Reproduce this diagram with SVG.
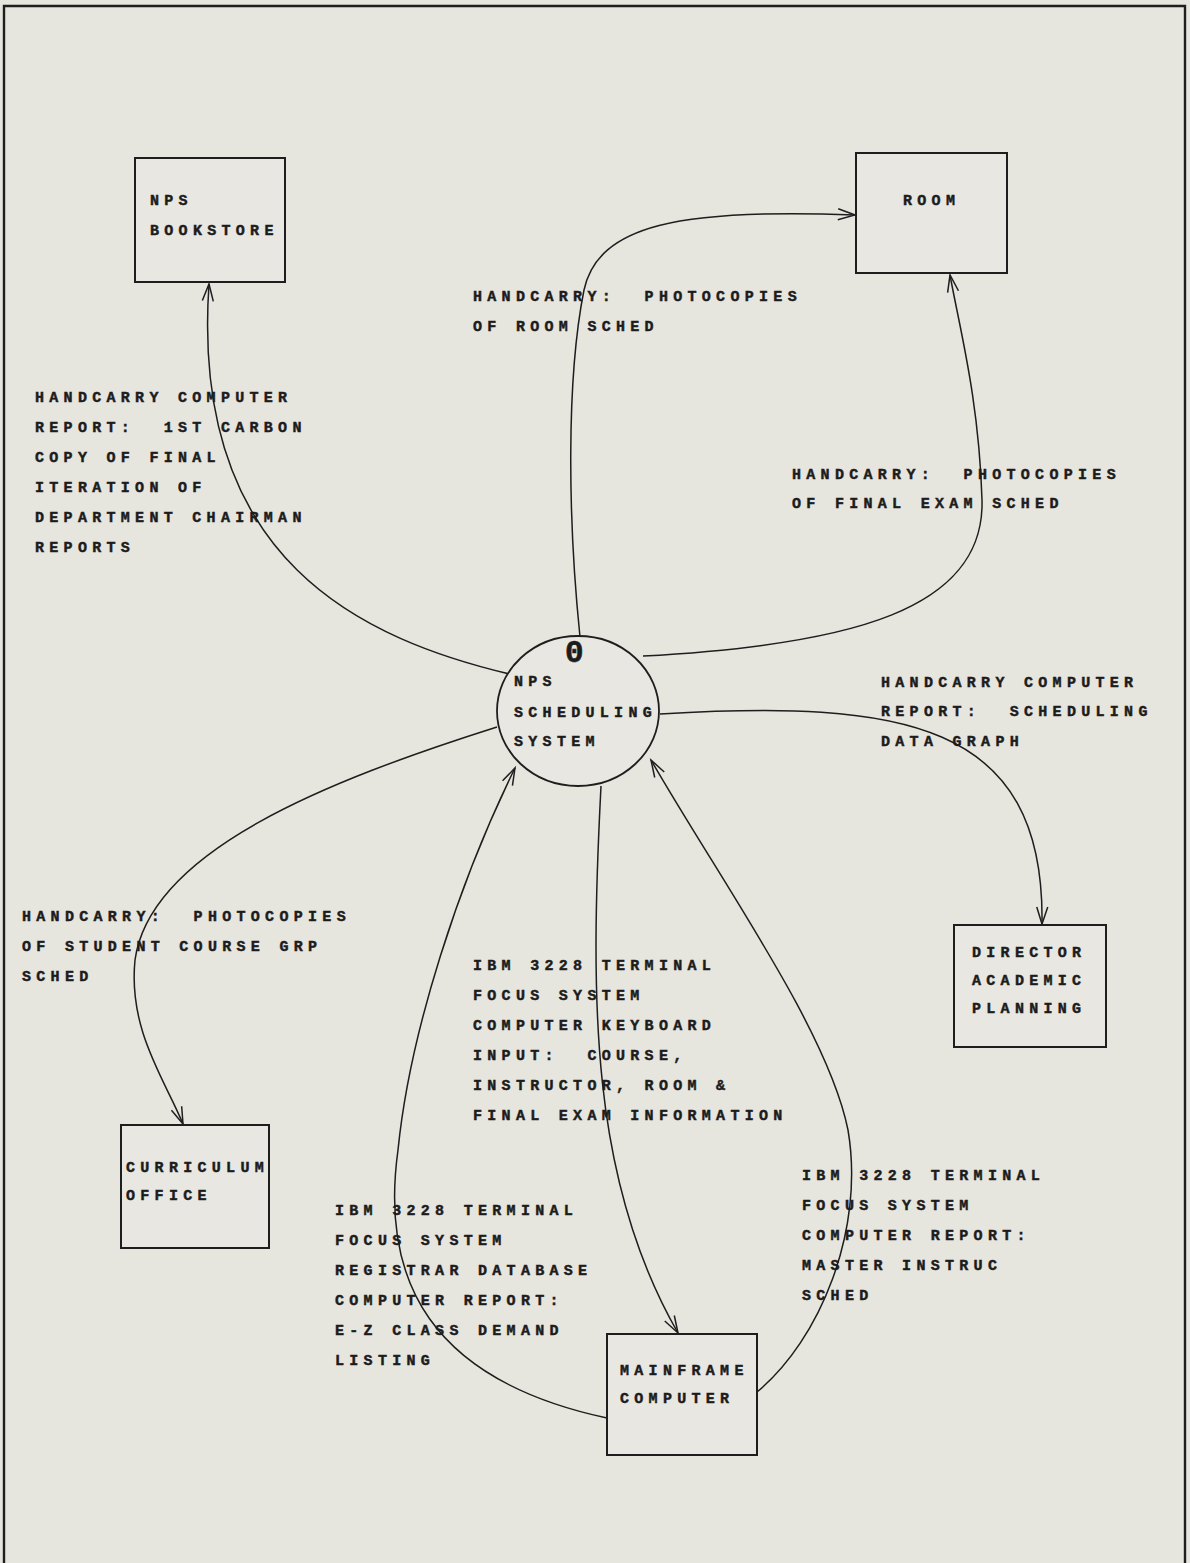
<svg xmlns="http://www.w3.org/2000/svg" width="1190" height="1563" viewBox="0 0 1190 1563">
  <style>
    .bg { fill: #e6e5de; }
    .frame { fill: none; stroke: #1e1e1e; stroke-width: 2.4; }
    .box { fill: #e8e7e1; stroke: #1e1e1e; stroke-width: 2; }
    .proc { fill: #e8e7e1; stroke: #1e1e1e; stroke-width: 1.8; }
    .flow { fill: none; stroke: #1e1e1e; stroke-width: 1.5; }
    text { font-family: "Liberation Mono", "DejaVu Sans Mono", monospace; font-weight: bold; font-size: 15px; letter-spacing: 5.3px; fill: #1c1c1c; stroke: #1c1c1c; stroke-width: 0.45; white-space: pre; }
    .num { font-size: 31px; letter-spacing: 0; stroke-width: 0.6; }
  </style>
  <defs>
    <marker id="arrow" markerUnits="userSpaceOnUse" markerWidth="24" markerHeight="16" viewBox="-20 -8 24 16" refX="0" refY="0" orient="auto">
      <path d="M -17 -5.5 L 0 0 L -17 5.5" fill="none" stroke="#1e1e1e" stroke-width="1.5"/>
    </marker>
  </defs>

  <rect class="bg" x="0" y="0" width="1190" height="1563"/>
  <!-- page frame, open at the bottom -->
  <path class="frame" d="M 4 1570 L 4 6 L 1185 6 L 1185 1570"/>

  <!-- data flows -->
  <g id="connectors">
    <path class="flow" marker-end="url(#arrow)" d="M 518 676 C 360 640, 190 560, 209 284"/>
    <path class="flow" marker-end="url(#arrow)" d="M 580 637 C 568 520, 566 380, 584 290 C 598 225, 680 208, 855 215"/>
    <path class="flow" marker-end="url(#arrow)" d="M 643 656 C 850 645, 985 610, 982 500 C 979 400, 960 330, 950 275"/>
    <path class="flow" marker-end="url(#arrow)" d="M 660 714 C 900 700, 1045 720, 1042 924"/>
    <path class="flow" marker-end="url(#arrow)" d="M 497 727 C 330 780, 150 850, 135 960 C 128 1030, 165 1080, 183 1124"/>
    <path class="flow" marker-end="url(#arrow)" d="M 601 786 C 590 1000, 590 1180, 678 1333"/>
    <path class="flow" marker-end="url(#arrow)" d="M 607 1418 C 430 1380, 380 1280, 398 1150 C 410 1030, 460 880, 515 768"/>
    <path class="flow" marker-end="url(#arrow)" d="M 757 1392 C 820 1340, 865 1230, 848 1130 C 828 1030, 720 880, 651 760"/>
  </g>

  <!-- flow labels -->
  <g id="labels">
    <text x="473" y="301">HANDCARRY:  PHOTOCOPIES</text>
    <text x="473" y="331">OF ROOM SCHED</text>

    <text x="35" y="402">HANDCARRY COMPUTER</text>
    <text x="35" y="432">REPORT:  1ST CARBON</text>
    <text x="35" y="462">COPY OF FINAL</text>
    <text x="35" y="492">ITERATION OF</text>
    <text x="35" y="522">DEPARTMENT CHAIRMAN</text>
    <text x="35" y="552">REPORTS</text>

    <text x="792" y="479">HANDCARRY:  PHOTOCOPIES</text>
    <text x="792" y="508">OF FINAL EXAM SCHED</text>

    <text x="881" y="687">HANDCARRY COMPUTER</text>
    <text x="881" y="716">REPORT:  SCHEDULING</text>
    <text x="881" y="746">DATA GRAPH</text>

    <text x="22" y="921">HANDCARRY:  PHOTOCOPIES</text>
    <text x="22" y="951">OF STUDENT COURSE GRP</text>
    <text x="22" y="981">SCHED</text>

    <text x="473" y="970">IBM 3228 TERMINAL</text>
    <text x="473" y="1000">FOCUS SYSTEM</text>
    <text x="473" y="1030">COMPUTER KEYBOARD</text>
    <text x="473" y="1060">INPUT:  COURSE,</text>
    <text x="473" y="1090">INSTRUCTOR, ROOM &amp;</text>
    <text x="473" y="1120">FINAL EXAM INFORMATION</text>

    <text x="335" y="1215">IBM 3228 TERMINAL</text>
    <text x="335" y="1245">FOCUS SYSTEM</text>
    <text x="335" y="1275">REGISTRAR DATABASE</text>
    <text x="335" y="1305">COMPUTER REPORT:</text>
    <text x="335" y="1335">E-Z CLASS DEMAND</text>
    <text x="335" y="1365">LISTING</text>

    <text x="802" y="1180">IBM 3228 TERMINAL</text>
    <text x="802" y="1210">FOCUS SYSTEM</text>
    <text x="802" y="1240">COMPUTER REPORT:</text>
    <text x="802" y="1270">MASTER INSTRUC</text>
    <text x="802" y="1300">SCHED</text>
  </g>

  <!-- external entities and the process -->
  <g id="nps-bookstore">
    <rect class="box" x="135" y="158" width="150" height="124"/>
    <text x="150" y="205">NPS</text>
    <text x="150" y="235">BOOKSTORE</text>
  </g>

  <g id="room">
    <rect class="box" x="856" y="153" width="151" height="120"/>
    <text x="903" y="205">ROOM</text>
  </g>

  <g id="nps-scheduling-system">
    <ellipse class="proc" cx="578" cy="711" rx="81" ry="75"/>
    <text class="num" x="565" y="662">0</text>
    <text x="514" y="686">NPS</text>
    <text x="514" y="717">SCHEDULING</text>
    <text x="514" y="746">SYSTEM</text>
  </g>

  <g id="director-academic-planning">
    <rect class="box" x="954" y="925" width="152" height="122"/>
    <text x="972" y="957">DIRECTOR</text>
    <text x="972" y="985">ACADEMIC</text>
    <text x="972" y="1013">PLANNING</text>
  </g>

  <g id="curriculum-office">
    <rect class="box" x="121" y="1125" width="148" height="123"/>
    <text x="126" y="1172">CURRICULUM</text>
    <text x="126" y="1200">OFFICE</text>
  </g>

  <g id="mainframe-computer">
    <rect class="box" x="607" y="1334" width="150" height="121"/>
    <text x="620" y="1375">MAINFRAME</text>
    <text x="620" y="1403">COMPUTER</text>
  </g>
</svg>
